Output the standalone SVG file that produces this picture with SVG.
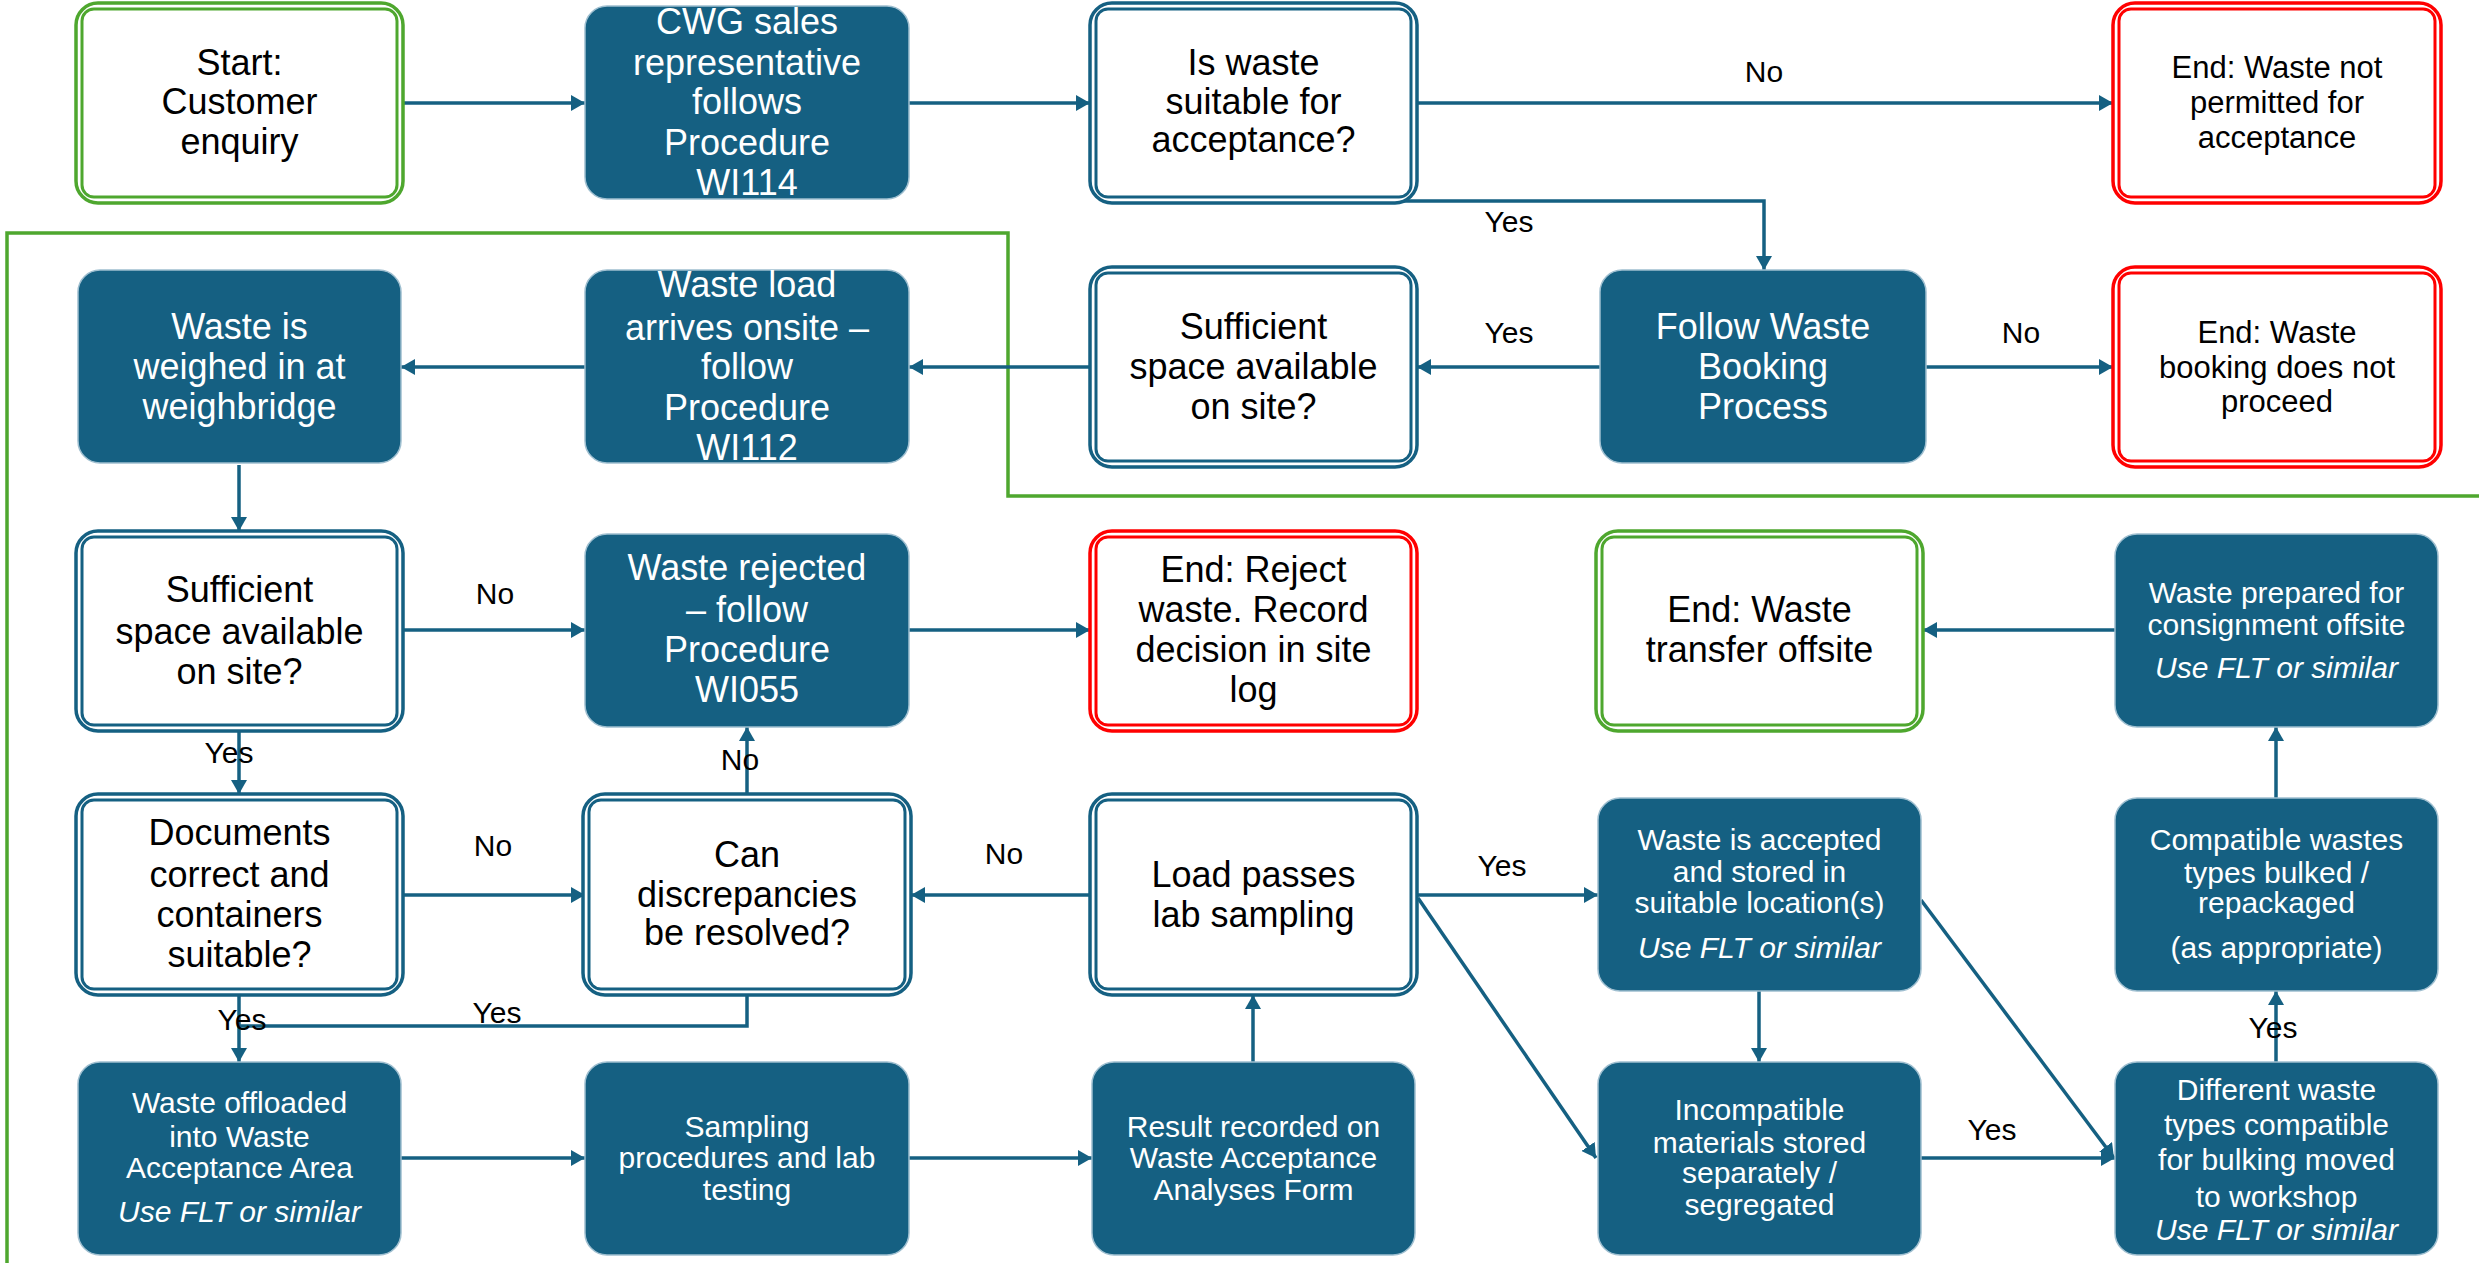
<svg xmlns="http://www.w3.org/2000/svg" width="2479" height="1263" viewBox="0 0 2479 1263">
<style>
text{font-family:"Liberation Sans",Arial,sans-serif;text-anchor:middle}
.big{font-size:36px}
.med{font-size:31px}
.sm{font-size:30px}
.w{fill:#ffffff}
.k{fill:#000000}
.it{font-style:italic}
.lbl{font-size:30px;fill:#000}
.fill{fill:#156082;stroke:#9fbfd0;stroke-width:1.5}
.o{fill:#fff;stroke-width:3.5}
.i{fill:none;stroke-width:3}
.blue{stroke:#156082}
.red{stroke:#ff0000}
.green{stroke:#4ea72e}
.c{fill:none;stroke:#156082;stroke-width:3.5}
.a{marker-end:url(#ah)}
</style>
<defs>
<marker id="ah" markerUnits="userSpaceOnUse" markerWidth="14" markerHeight="16" refX="14" refY="8" orient="auto">
<path d="M0,0 L14,8 L0,16 z" fill="#156082"/>
</marker>
</defs>
<rect width="2479" height="1263" fill="#fff"/>

<g id="boundary">
<path d="M2479,496 H1008 V233 H7 V1263" fill="none" stroke="#4ea72e" stroke-width="3.5"/>
</g>

<g id="connectors">
<path class="c a" d="M403,103 H585"/>
<path class="c a" d="M909,103 H1090"/>
<path class="c a" d="M1417,103 H2113"/>
<path class="c a" d="M1259,201 H1764 V270"/>
<path class="c a" d="M1600,367 H1417"/>
<path class="c a" d="M1926,367 H2113"/>
<path class="c a" d="M1090,367 H909"/>
<path class="c a" d="M585,367 H401"/>
<path class="c a" d="M239,465 V531"/>
<path class="c a" d="M403,630 H585"/>
<path class="c a" d="M909,630 H1090"/>
<path class="c a" d="M239,731 V794"/>
<path class="c a" d="M747,794 V727"/>
<path class="c a" d="M403,895 H585"/>
<path class="c a" d="M1090,895 H911"/>
<path class="c a" d="M239,995 V1062"/>
<path class="c" d="M747,995 V1026 H239"/>
<path class="c a" d="M401,1158 H585"/>
<path class="c a" d="M909,1158 H1092"/>
<path class="c a" d="M1253,1062 V995"/>
<path class="c a" d="M1417,895 H1598"/>
<path class="c a" d="M1418,898 L1596,1158"/>
<path class="c a" d="M1759,991 V1062"/>
<path class="c a" d="M1921,900 L2114,1158"/>
<path class="c a" d="M1921,1158 H2115"/>
<path class="c a" d="M2276,1062 V991"/>
<path class="c a" d="M2276,798 V727"/>
<path class="c a" d="M2115,630 H1923"/>
<text class="lbl" x="1764" y="82">No</text>
<text class="lbl" x="1509" y="232">Yes</text>
<text class="lbl" x="1509" y="343">Yes</text>
<text class="lbl" x="2021" y="343">No</text>
<text class="lbl" x="495" y="604">No</text>
<text class="lbl" x="229" y="763">Yes</text>
<text class="lbl" x="740" y="770">No</text>
<text class="lbl" x="493" y="856">No</text>
<text class="lbl" x="1004" y="864">No</text>
<text class="lbl" x="242" y="1030">Yes</text>
<text class="lbl" x="497" y="1023">Yes</text>
<text class="lbl" x="1502" y="876">Yes</text>
<text class="lbl" x="1992" y="1140">Yes</text>
<text class="lbl" x="2273" y="1038">Yes</text>
</g>

<g id="n-start">
<rect class="o green" x="76" y="3" width="327" height="200" rx="22"/>
<rect class="i green" x="82" y="9" width="315" height="188" rx="12"/>
<text class="big k"><tspan x="239.5" y="75">Start:</tspan><tspan x="239.5" y="114">Customer</tspan><tspan x="239.5" y="154">enquiry</tspan></text>
</g>

<g id="n-cwg">
<rect class="fill" x="585" y="6" width="324" height="193" rx="22"/>
<text class="big w"><tspan x="747" y="34">CWG sales</tspan><tspan x="747" y="75">representative</tspan><tspan x="747" y="114">follows</tspan><tspan x="747" y="155">Procedure</tspan><tspan x="747" y="195">WI114</tspan></text>
</g>

<g id="n-suitable">
<rect class="o blue" x="1090" y="3" width="327" height="200" rx="22"/>
<rect class="i blue" x="1096" y="9" width="315" height="188" rx="12"/>
<text class="big k"><tspan x="1253.5" y="75">Is waste</tspan><tspan x="1253.5" y="114">suitable for</tspan><tspan x="1253.5" y="152">acceptance?</tspan></text>
</g>

<g id="n-end-notpermitted">
<rect class="o red" x="2113" y="3" width="328" height="200" rx="22"/>
<rect class="i red" x="2119" y="9" width="316" height="188" rx="12"/>
<text class="med k"><tspan x="2277" y="78">End: Waste not</tspan><tspan x="2277" y="113">permitted for</tspan><tspan x="2277" y="148">acceptance</tspan></text>
</g>

<g id="n-weighed">
<rect class="fill" x="78" y="270" width="323" height="193" rx="22"/>
<text class="big w"><tspan x="239.5" y="339">Waste is</tspan><tspan x="239.5" y="379">weighed in at</tspan><tspan x="239.5" y="419">weighbridge</tspan></text>
</g>

<g id="n-arrives">
<rect class="fill" x="585" y="270" width="324" height="193" rx="22"/>
<text class="big w"><tspan x="747" y="297">Waste load</tspan><tspan x="747" y="340">arrives onsite –</tspan><tspan x="747" y="379">follow</tspan><tspan x="747" y="420">Procedure</tspan><tspan x="747" y="460">WI112</tspan></text>
</g>

<g id="n-space1">
<rect class="o blue" x="1090" y="267" width="327" height="200" rx="22"/>
<rect class="i blue" x="1096" y="273" width="315" height="188" rx="12"/>
<text class="big k"><tspan x="1253.5" y="339">Sufficient</tspan><tspan x="1253.5" y="379">space available</tspan><tspan x="1253.5" y="419">on site?</tspan></text>
</g>

<g id="n-booking">
<rect class="fill" x="1600" y="270" width="326" height="193" rx="22"/>
<text class="big w"><tspan x="1763" y="339">Follow Waste</tspan><tspan x="1763" y="379">Booking</tspan><tspan x="1763" y="419">Process</tspan></text>
</g>

<g id="n-end-booking">
<rect class="o red" x="2113" y="267" width="328" height="200" rx="22"/>
<rect class="i red" x="2119" y="273" width="316" height="188" rx="12"/>
<text class="med k"><tspan x="2277" y="343">End: Waste</tspan><tspan x="2277" y="378">booking does not</tspan><tspan x="2277" y="412">proceed</tspan></text>
</g>

<g id="n-space2">
<rect class="o blue" x="76" y="531" width="327" height="200" rx="22"/>
<rect class="i blue" x="82" y="537" width="315" height="188" rx="12"/>
<text class="big k"><tspan x="239.5" y="602">Sufficient</tspan><tspan x="239.5" y="644">space available</tspan><tspan x="239.5" y="684">on site?</tspan></text>
</g>

<g id="n-rejected">
<rect class="fill" x="585" y="534" width="324" height="193" rx="22"/>
<text class="big w"><tspan x="747" y="580">Waste rejected</tspan><tspan x="747" y="622">– follow</tspan><tspan x="747" y="662">Procedure</tspan><tspan x="747" y="702">WI055</tspan></text>
</g>

<g id="n-end-reject">
<rect class="o red" x="1090" y="531" width="327" height="200" rx="22"/>
<rect class="i red" x="1096" y="537" width="315" height="188" rx="12"/>
<text class="big k"><tspan x="1253.5" y="582">End: Reject</tspan><tspan x="1253.5" y="622">waste. Record</tspan><tspan x="1253.5" y="662">decision in site</tspan><tspan x="1253.5" y="702">log</tspan></text>
</g>

<g id="n-end-transfer">
<rect class="o green" x="1596" y="531" width="327" height="200" rx="22"/>
<rect class="i green" x="1602" y="537" width="315" height="188" rx="12"/>
<text class="big k"><tspan x="1759.5" y="622">End: Waste</tspan><tspan x="1759.5" y="662">transfer offsite</tspan></text>
</g>

<g id="n-prepared">
<rect class="fill" x="2115" y="534" width="323" height="193" rx="22"/>
<text class="sm w"><tspan x="2276.5" y="603">Waste prepared for</tspan><tspan x="2276.5" y="635">consignment offsite</tspan><tspan class="it" x="2276.5" y="678">Use FLT or similar</tspan></text>
</g>

<g id="n-documents">
<rect class="o blue" x="76" y="794" width="327" height="201" rx="22"/>
<rect class="i blue" x="82" y="800" width="315" height="189" rx="12"/>
<text class="big k"><tspan x="239.5" y="845">Documents</tspan><tspan x="239.5" y="887">correct and</tspan><tspan x="239.5" y="927">containers</tspan><tspan x="239.5" y="967">suitable?</tspan></text>
</g>

<g id="n-discrepancies">
<rect class="o blue" x="583" y="794" width="328" height="201" rx="22"/>
<rect class="i blue" x="589" y="800" width="316" height="189" rx="12"/>
<text class="big k"><tspan x="747" y="867">Can</tspan><tspan x="747" y="907">discrepancies</tspan><tspan x="747" y="945">be resolved?</tspan></text>
</g>

<g id="n-labpass">
<rect class="o blue" x="1090" y="794" width="327" height="201" rx="22"/>
<rect class="i blue" x="1096" y="800" width="315" height="189" rx="12"/>
<text class="big k"><tspan x="1253.5" y="887">Load passes</tspan><tspan x="1253.5" y="927">lab sampling</tspan></text>
</g>

<g id="n-accepted">
<rect class="fill" x="1598" y="798" width="323" height="193" rx="22"/>
<text class="sm w"><tspan x="1759.5" y="850">Waste is accepted</tspan><tspan x="1759.5" y="882">and stored in</tspan><tspan x="1759.5" y="913">suitable location(s)</tspan><tspan class="it" x="1759.5" y="958">Use FLT or similar</tspan></text>
</g>

<g id="n-bulked">
<rect class="fill" x="2115" y="798" width="323" height="193" rx="22"/>
<text class="sm w"><tspan x="2276.5" y="850">Compatible wastes</tspan><tspan x="2276.5" y="883">types bulked /</tspan><tspan x="2276.5" y="913">repackaged</tspan><tspan x="2276.5" y="958">(as appropriate)</tspan></text>
</g>

<g id="n-offloaded">
<rect class="fill" x="78" y="1062" width="323" height="193" rx="22"/>
<text class="sm w"><tspan x="239.5" y="1113">Waste offloaded</tspan><tspan x="239.5" y="1147">into Waste</tspan><tspan x="239.5" y="1178">Acceptance Area</tspan><tspan class="it" x="239.5" y="1222">Use FLT or similar</tspan></text>
</g>

<g id="n-sampling">
<rect class="fill" x="585" y="1062" width="324" height="193" rx="22"/>
<text class="sm w"><tspan x="747" y="1137">Sampling</tspan><tspan x="747" y="1168">procedures and lab</tspan><tspan x="747" y="1200">testing</tspan></text>
</g>

<g id="n-result">
<rect class="fill" x="1092" y="1062" width="323" height="193" rx="22"/>
<text class="sm w"><tspan x="1253.5" y="1137">Result recorded on</tspan><tspan x="1253.5" y="1168">Waste Acceptance</tspan><tspan x="1253.5" y="1200">Analyses Form</tspan></text>
</g>

<g id="n-incompatible">
<rect class="fill" x="1598" y="1062" width="323" height="193" rx="22"/>
<text class="sm w"><tspan x="1759.5" y="1120">Incompatible</tspan><tspan x="1759.5" y="1153">materials stored</tspan><tspan x="1759.5" y="1183">separately /</tspan><tspan x="1759.5" y="1215">segregated</tspan></text>
</g>

<g id="n-different">
<rect class="fill" x="2115" y="1062" width="323" height="193" rx="22"/>
<text class="sm w"><tspan x="2276.5" y="1100">Different waste</tspan><tspan x="2276.5" y="1135">types compatible</tspan><tspan x="2276.5" y="1170">for bulking moved</tspan><tspan x="2276.5" y="1207">to workshop</tspan><tspan class="it" x="2276.5" y="1240">Use FLT or similar</tspan></text>
</g>
</svg>
